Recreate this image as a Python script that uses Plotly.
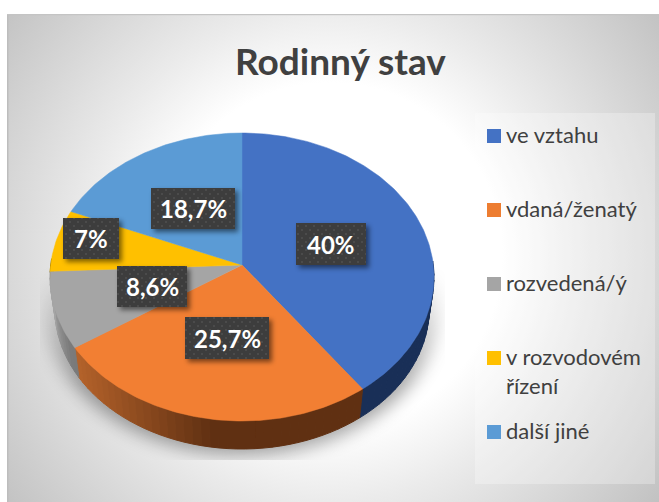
import base64
import math
import plotly.graph_objects as go

# ---- data ----
categories = ["ve vztahu", "vdaná/ženatý", "rozvedená/ý", "v rozvodovém<br>řízení", "další jiné"]
values = [40, 25.7, 8.6, 7, 18.7]
title_text = "Rodinný stav"

# ---- styles ----
top_colors = ["#4472C4", "#F27F33", "#A5A5A5", "#FFC000", "#5B9BD5"]
legend_colors = ["#4472C4", "#ED7D31", "#A5A5A5", "#FFC000", "#5B9BD5"]
W, H = 659, 502
APEX_X, APEX_Y = 242, 265
BX, AY, K = 191.3, 143.0, 0.0833
ELL_CY = 277
label_boxes = [(296, 223, 70, 42), (185, 317, 84, 42), (117, 266, 70, 41), (63, 218, 56, 41), (151, 188, 84, 41)]
legend_y = [136, 210, 284, 358, 432]


def project(theta):
    u, v = math.sin(theta), math.cos(theta)
    w = 1 + K * v
    return APEX_X + BX * u / w, APEX_Y - AY * v / w


def lower(x, y):
    return APEX_X + (x - APEX_X) * 0.975, ELL_CY + (y - ELL_CY) * 0.975 + 31.6


def lerp(a, b, t):
    t = max(0, min(1, t))
    return tuple(round(p + (q - p) * t) for p, q in zip(a, b))


def wall_color(i, x, y):
    if i == 0:
        return (25, 47, 87)
    if i == 1:
        return lerp((180, 98, 42), (96, 48, 18), (x - 76) / 135)
    if i == 2:
        return lerp((165, 165, 165), (122, 122, 122), (y - 290) / 50)
    if i == 3:
        return (150, 115, 0)
    return (60, 100, 140)


def bg_svg():
    return f'''<svg xmlns="http://www.w3.org/2000/svg" width="{W}" height="{H}" viewBox="0 0 {W} {H}">
<defs>
<radialGradient id="g" gradientUnits="userSpaceOnUse" cx="330" cy="255" r="410">
<stop offset="0" stop-color="#ffffff"/><stop offset="0.42" stop-color="#ffffff"/>
<stop offset="0.6" stop-color="#ebebeb"/><stop offset="1" stop-color="#c2c2c2"/></radialGradient>
<filter id="b" x="-20%" y="-20%" width="140%" height="140%"><feGaussianBlur stdDeviation="9"/></filter>
<linearGradient id="mg" gradientUnits="userSpaceOnUse" x1="0" y1="265" x2="0" y2="385">
<stop offset="0" stop-color="#000"/><stop offset="1" stop-color="#fff"/></linearGradient>
<mask id="m" maskUnits="userSpaceOnUse" x="0" y="0" width="{W}" height="{H}"><rect width="{W}" height="{H}" fill="url(#mg)"/></mask>
<clipPath id="c"><rect x="40" y="265" width="405" height="195"/></clipPath>
</defs>
<rect width="{W}" height="{H}" fill="#ffffff"/>
<rect x="8" y="14" width="{W}" height="{H}" fill="url(#g)"/>
<rect x="7" y="14" width="1.5" height="{H}" fill="#bdbdbd"/>
<rect x="7" y="14" width="{W}" height="1.2" fill="#c4c4c4"/>
<rect x="475" y="113" width="180" height="371" fill="#ffffff" opacity="0.28"/>
<g clip-path="url(#c)"><g mask="url(#m)"><ellipse cx="242" cy="308" rx="196" ry="147" fill="#000000" opacity="0.36" filter="url(#b)"/></g></g>
</svg>'''


def fg_svg():
    boxes = "".join(
        f'<rect x="{x + 3}" y="{y + 3}" width="{w}" height="{h}" fill="#000" opacity="0.5" filter="url(#s)"/>'
        f'<rect x="{x}" y="{y}" width="{w}" height="{h}" fill="url(#p)"/>'
        for x, y, w, h in label_boxes)
    return f'''<svg xmlns="http://www.w3.org/2000/svg" width="{W}" height="{H}" viewBox="0 0 {W} {H}">
<defs>
<pattern id="p" patternUnits="userSpaceOnUse" width="8" height="8">
<rect width="8" height="8" fill="#3d3d3d"/><rect x="1" y="1" width="2" height="2" fill="#4b4b4b"/>
<rect x="5" y="5" width="2" height="2" fill="#4b4b4b"/></pattern>
<filter id="s" x="-20%" y="-20%" width="140%" height="140%"><feGaussianBlur stdDeviation="2.5"/></filter>
</defs>{boxes}</svg>'''


def uri(s):
    return "data:image/svg+xml;base64," + base64.b64encode(s.encode()).decode()


fig = go.Figure()
total = sum(values)
bounds = [0]
for v in values:
    bounds.append(bounds[-1] + v / total * 2 * math.pi)

# side walls (front-facing part of the rim only)
for i in range(len(values)):
    n = max(2, int((bounds[i + 1] - bounds[i]) / math.radians(2.5)))
    for j in range(n):
        a = bounds[i] + (bounds[i + 1] - bounds[i]) * j / n
        b = bounds[i] + (bounds[i + 1] - bounds[i]) * (j + 1) / n
        if math.cos((a + b) / 2) > 0.03:
            continue
        x1, y1 = project(a)
        x2, y2 = project(b)
        x3, y3 = lower(x2, y2)
        x4, y4 = lower(x1, y1)
        c = "rgb(%d,%d,%d)" % wall_color(i, (x1 + x2) / 2, (y1 + y2) / 2)
        fig.add_trace(go.Scatter(x=[x1, x2, x3, x4, x1], y=[y1, y2, y3, y4, y1], mode="lines",
                                 fill="toself", fillcolor=c, line=dict(color=c, width=1),
                                 hoverinfo="skip", showlegend=False))

# top faces
for i, (name, v) in enumerate(zip(categories, values)):
    n = max(8, int((bounds[i + 1] - bounds[i]) / math.radians(1)))
    pts = [project(bounds[i] + (bounds[i + 1] - bounds[i]) * j / n) for j in range(n + 1)]
    xs = [APEX_X] + [p[0] for p in pts] + [APEX_X]
    ys = [APEX_Y] + [p[1] for p in pts] + [APEX_Y]
    fig.add_trace(go.Scatter(x=xs, y=ys, mode="lines", fill="toself", fillcolor=top_colors[i],
                             line=dict(color=top_colors[i], width=0.5), name=name.replace("<br>", " "),
                             text=f"{v}%", hoverinfo="name+text", showlegend=False))

# legend swatches
fig.add_trace(go.Scatter(x=[494] * len(categories), y=legend_y, mode="markers",
                         marker=dict(symbol="square", size=14, color=legend_colors, line=dict(width=0)),
                         hoverinfo="skip", showlegend=False))

annotations = [dict(x=340, y=60, text=f"<b>{title_text}</b>", showarrow=False, xanchor="center", yanchor="middle",
                    font=dict(family="Lato", size=37, color="#404040"))]
for name, y in zip(categories, legend_y):
    annotations.append(dict(x=506, y=y - 15, text=name, showarrow=False, xanchor="left", yanchor="top", align="left",
                            font=dict(family="Lato", size=22, color="#404040"), borderpad=0, borderwidth=0))
for v, (x, y, w, h) in zip(values, label_boxes):
    annotations.append(dict(x=x + w / 2, y=y + h / 2, text="<b>" + f"{v:g}".replace(".", ",") + "%</b>",
                            showarrow=False, xanchor="center", yanchor="middle",
                            font=dict(family="Lato", size=24, color="#ffffff")))

images = [
    dict(source=uri(bg_svg()), xref="x", yref="y", x=0, y=0, sizex=W, sizey=H, sizing="stretch",
         xanchor="left", yanchor="top", layer="below"),
    dict(source=uri(fg_svg()), xref="x", yref="y", x=0, y=0, sizex=W, sizey=H, sizing="stretch",
         xanchor="left", yanchor="top", layer="above"),
]

fig.update_layout(
    width=W, height=H, margin=dict(l=0, r=0, t=0, b=0), showlegend=False,
    paper_bgcolor="#ffffff", plot_bgcolor="rgba(0,0,0,0)",
    xaxis=dict(range=[0, W], visible=False, fixedrange=True),
    yaxis=dict(range=[H, 0], visible=False, fixedrange=True),
    annotations=annotations, images=images,
)
fig.write_html("out.html", config={"displayModeBar": False}, default_height=H, default_width=W,
               post_script="document.body.style.margin='0';document.body.style.overflow='hidden';")
